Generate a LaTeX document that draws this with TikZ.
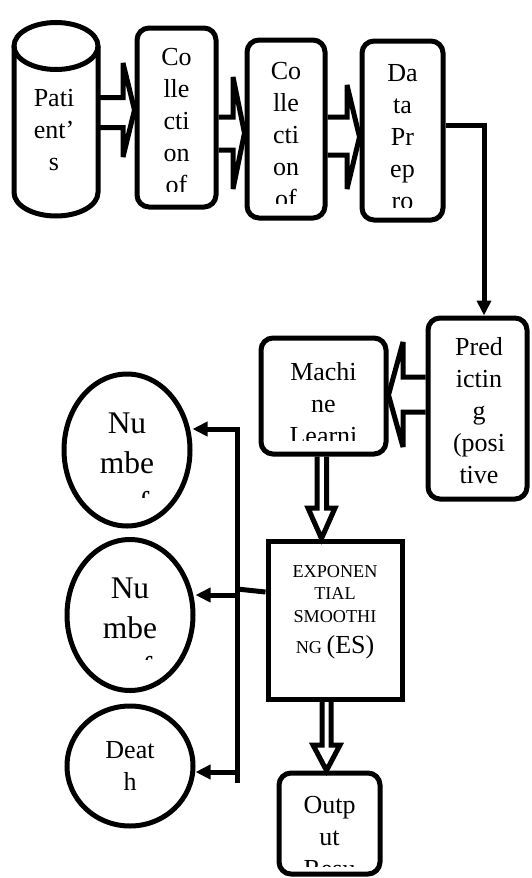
\documentclass[tikz,border=0pt]{standalone}
\usepackage{fontspec}
\setmainfont{Liberation Serif}
\usetikzlibrary{arrows.meta,shapes.geometric,backgrounds,calc}
\newcommand\myst{\rule{0pt}{28pt}}
\begin{document}
\begin{tikzpicture}[x=1pt,y=-1pt,
  lw/.style={line width=5pt},
  rbox/.style={draw,line width=5pt,rounded corners=12pt,inner sep=0pt},
  sbox/.style={draw,line width=5pt,inner sep=0pt},
  ell/.style={draw,ellipse,line width=5pt,inner sep=0pt},
  txt/.style={align=center,inner sep=0pt,anchor=north,font=\fontsize{26}{32}\selectfont},
  bigtxt/.style={txt,font=\fontsize{31.5}{40}\selectfont},
  conn/.style={line width=5pt},
  arr/.style={conn,-{Triangle[length=15pt,width=14pt]}},
  barrow/.style={draw,fill=white,line width=5pt,miter limit=3}]
\useasboundingbox (0,0) rectangle (531,878);

% shapes
\node[inner sep=0pt,minimum width=84pt,minimum height=194pt] (cyl) at (56,119) {};
\draw[lw] (14,46) -- (14,192.5) arc[start angle=180,end angle=0,x radius=42,y radius=23.5] -- (98,46);
\draw[lw] (56,46) ellipse[x radius=42,y radius=23.5];

\node[rbox,minimum width=79pt,minimum height=179pt] (b2) at (176.5,117.5) {};
\node[rbox,minimum width=78pt,minimum height=178pt] (b3) at (286,129) {};
\node[rbox,minimum width=81pt,minimum height=179pt] (b4) at (402.5,130.5) {};
\node[rbox,minimum width=99pt,minimum height=181pt] (pred) at (477.5,408.5) {};
\node[rbox,minimum width=125pt,minimum height=116pt] (ml) at (323.5,396) {};
\node[sbox,minimum width=134pt,minimum height=158pt] (es) at (335,620) {};
\node[rbox,minimum width=101pt,minimum height=101pt] (out) at (329.5,823.5) {};
\node[ell,minimum width=126pt,minimum height=152pt] (e1) at (127,450) {};
\node[ell,minimum width=126pt,minimum height=151pt] (e2) at (130,615) {};
\node[ell,minimum width=126pt,minimum height=120pt] (e3) at (130,766) {};

% texts
\node[txt] (tcyl) at (54,78) {\myst Pati\\ent’\\s};
\begin{scope}
  \clip (b2.north west) rectangle (b2.east |- 0,191);
  \node[txt] (t2) at (176.5,37) {\myst Co\\lle\\cti\\on\\of};
\end{scope}
\begin{scope}
  \clip (b3.north west) rectangle (b3.east |- 0,203);
  \node[txt] (t3) at (286,51) {\myst Co\\lle\\cti\\on\\of};
\end{scope}
\begin{scope}
  \clip (b4.north west) rectangle (b4.east |- 0,207);
  \node[txt] (t4) at (402.5,53) {\myst Da\\ta\\Pr\\ep\\ro};
\end{scope}
\node[txt] (tpred) at (479,327) {\myst Pred\\ictin\\g\\(posi\\tive};
\begin{scope}
  \clip (ml.north west) rectangle (ml.east |- 0,440);
  \node[txt] (tml) at (323.5,352) {\myst Machi\\ne\\Learni};
\end{scope}
\node[txt,font=\fontsize{18.2}{22.5}\selectfont] (tes) at (335,549)
  {\myst EXPONEN\\TIAL\\SMOOTHI\\[8.5pt]NG {\fontsize{26}{32}\selectfont (ES)}};
\begin{scope}
  \clip (out.north west) rectangle (out.east |- 0,866);
  \node[txt] (tout) at (329.5,785) {\myst Outp\\ut\\Resu};
\end{scope}
\begin{scope}
  \clip (e1.north west) rectangle (e1.east |- 0,497);
  \node[bigtxt] (te1) at (127,405) {\myst Nu\\mbe\\r of};
\end{scope}
\begin{scope}
  \clip (e2.north west) rectangle (e2.east |- 0,659);
  \node[bigtxt] (te2) at (130,570) {\myst Nu\\mbe\\r of};
\end{scope}
\node[txt] (te3) at (130,730) {\myst Deat\\h};

% block arrows
\begin{scope}[on background layer]
  \path[barrow] (cyl.east |- 0,97.5) -- (123,97.5) -- (123,63) -- (b2.west |- 0,110)
    -- (123,157) -- (123,127.5) -- (cyl.east |- 0,127.5);
  \path[barrow] (b2.east |- 0,117) -- (233,117) -- (233,77) -- (b3.west |- 0,133)
    -- (233,189) -- (233,150) -- (b2.east |- 0,150);
  \path[barrow] (b3.east |- 0,117) -- (347,117) -- (347,85) -- (b4.west |- 0,137)
    -- (347,189) -- (347,155) -- (b3.east |- 0,155);
  \path[barrow] (pred.west |- 0,377) -- (403,377) -- (403,342) -- (ml.east |- 0,395)
    -- (403,447) -- (403,412) -- (pred.west |- 0,412);
  \path[barrow] (ml.south -| 317,0) -- (317,508) -- (308,508) -- (es.north -| 321.5,0)
    -- (335,508) -- (326.5,508) -- (ml.south -| 326.5,0);
  \path[barrow] (es.south -| 322,0) -- (322,745) -- (313,745) -- (out.north -| 326.5,0)
    -- (340,745) -- (331,745) -- (es.south -| 331,0);
\end{scope}

% connectors
\draw[arr] (b4.east |- 0,125) -| ($(pred.north)+(6.5,0)$);
\coordinate (bt) at (237,429);
\coordinate (bb) at (237,783);
\coordinate (bm) at (237,595);
\coordinate (bl) at (237,772);
\coordinate (bj) at (237,589);
\draw[arr] (bb) -- (bt) -- (bt -| e1.east);
\draw[arr] (bm) -- (bm -| e2.east);
\draw[arr] (bl) -- (bl -| e3.east);
\draw[conn] (es.west |- 0,592) -- (bj);
\end{tikzpicture}
\end{document}
